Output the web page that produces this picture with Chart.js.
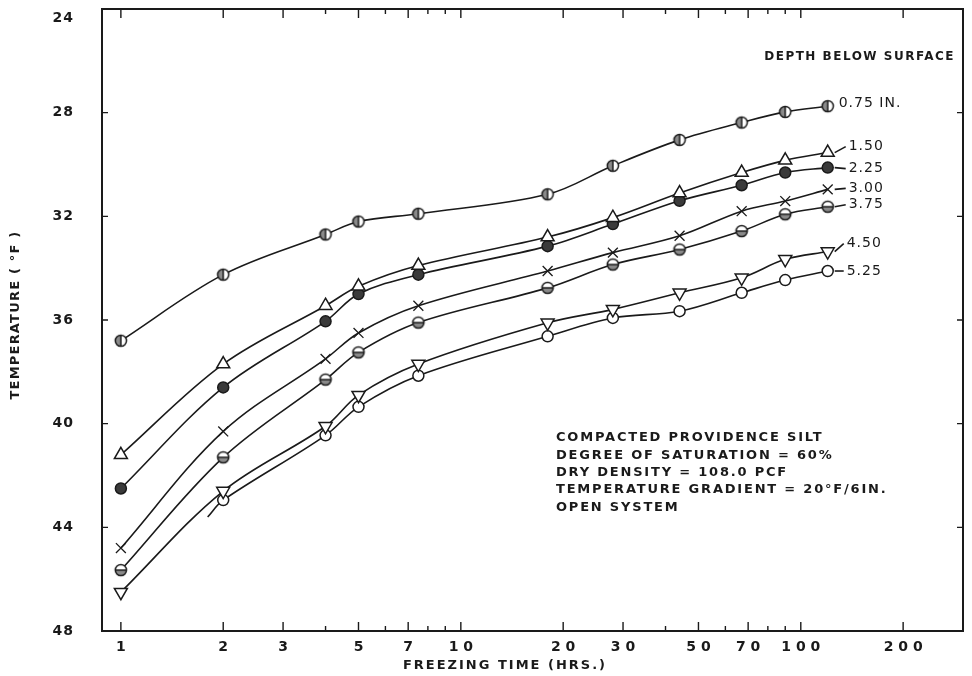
<!DOCTYPE html>
<html>
<head>
<meta charset="utf-8">
<script src="https://cdn.jsdelivr.net/npm/chart.js@4.4.1/dist/chart.umd.min.js"></script>
<style>
  body { margin: 0; background: #fff; }
</style>
</head>
<body>
<canvas id="myChart" width="972" height="676"></canvas>
<script>
// freezing time (hrs) at which temperatures were read
const hours = [1, 2, 4, 5, 7.5, 18, 28, 44, 67, 90, 120];
const depthLabels = ['0.75 IN.', '1.50', '2.25', '3.00', '3.75', '4.50', '5.25'];

// temperature (deg F) for each depth below surface
const temp075 = [36.8, 34.25, 32.7, 32.2, 31.9, 31.15, 30.05, 29.05, 28.38, 27.97, 27.75];
const temp150 = [41.2, 37.7, 35.45, 34.7, 33.9, 32.8, 32.05, 31.1, 30.31, 29.84, 29.54];
const temp225 = [42.5, 38.6, 36.05, 35.0, 34.25, 33.15, 32.3, 31.4, 30.8, 30.31, 30.12];
const temp300 = [44.8, 40.3, 37.5, 36.5, 35.45, 34.11, 33.4, 32.75, 31.8, 31.41, 30.96];
const temp375 = [45.65, 41.3, 38.3, 37.25, 36.1, 34.76, 33.86, 33.28, 32.57, 31.92, 31.63];
const temp450 = [46.5, 42.6, 40.1, 38.9, 37.7, 36.11, 35.59, 34.95, 34.37, 33.66, 33.36];
const temp525 = [null, 42.95, 40.45, 39.35, 38.15, 36.63, 35.92, 35.66, 34.95, 34.46, 34.11];
const start525 = [1.8, 43.6]; // the 5.25 curve starts a little before its 2 hr point

const xTicks = [1, 2, 3, 5, 7, 10, 20, 30, 50, 70, 100, 200];
const xMinorTicks = [4, 6, 8, 9, 40, 60, 80, 90];
const yTicks = [24, 28, 32, 36, 40, 44, 48];

const noteLines = [
    'COMPACTED PROVIDENCE SILT',
    'DEGREE OF SATURATION = 60%',
    'DRY DENSITY = 108.0 PCF',
    'TEMPERATURE GRADIENT = 20°F/6IN.',
    'OPEN SYSTEM'
];

const FONT = '"DejaVu Sans", "Liberation Sans", sans-serif';
const INK = '#1a1a1a';

// small hand-made markers (circle with a bar through it)
function barCircle(vertical) {
    const c = document.createElement('canvas');
    c.width = 16; c.height = 16;
    const g = c.getContext('2d');
    g.beginPath(); g.arc(8, 8, 5.6, 0, Math.PI * 2);
    g.fillStyle = '#fff'; g.fill();
    g.save();
    g.beginPath();
    if (vertical) g.arc(8, 8, 5.6, Math.PI / 2, Math.PI * 1.5);
    else g.arc(8, 8, 5.6, 0, Math.PI);
    g.closePath();
    g.fillStyle = '#8a8a8a'; g.fill();
    g.restore();
    g.strokeStyle = INK; g.lineWidth = 1.5;
    g.beginPath(); g.arc(8, 8, 5.6, 0, Math.PI * 2); g.stroke();
    g.beginPath();
    if (vertical) { g.moveTo(8, 2.4); g.lineTo(8, 13.6); }
    else { g.moveTo(2.4, 8); g.lineTo(13.6, 8); }
    g.stroke();
    return c;
}

const markers = [
    { style: barCircle(true), radius: 6, bg: '#fff', rot: 0 },
    { style: 'triangle', radius: 7.5, bg: '#fff', rot: 0 },
    { style: 'circle', radius: 5.5, bg: '#3a3a3a', rot: 0 },
    { style: 'crossRot', radius: 7, bg: '#fff', rot: 0 },
    { style: barCircle(false), radius: 6, bg: '#fff', rot: 0 },
    { style: 'triangle', radius: 7.5, bg: '#fff', rot: 180 },
    { style: 'circle', radius: 5.5, bg: '#fff', rot: 0 }
];
// where the depth label sits next to the last point
const labelPlace = [
    { dash: false, dy: -3, gap: 11 },
    { dash: true, dy: -6, gap: 21 },
    { dash: true, dy: 1, gap: 21 },
    { dash: true, dy: -1, gap: 21 },
    { dash: true, dy: -2, gap: 21 },
    { dash: true, dy: -8, gap: 19 },
    { dash: true, dy: 0, gap: 19 }
];

const allTemps = [temp075, temp150, temp225, temp300, temp375, temp450, temp525];

const datasets = allTemps.map((temps, k) => {
    let pts = [];
    hours.forEach((h, i) => {
        if (temps[i] !== null) pts.push({ x: h, y: temps[i] });
    });
    let hidden = -1;
    if (k === 6) { pts.unshift({ x: start525[0], y: start525[1] }); hidden = 0; }
    const m = markers[k];
    return {
        label: depthLabels[k],
        data: pts,
        borderColor: INK,
        borderWidth: 1.6,
        fill: false,
        tension: 0.35,
        pointStyle: m.style,
        pointRotation: m.rot,
        pointRadius: ctx => ctx.dataIndex === hidden ? 0 : m.radius,
        pointBackgroundColor: m.bg,
        pointBorderColor: INK,
        pointBorderWidth: k === 3 ? 1.3 : 1.5
    };
});

const decorPlugin = {
    id: 'decor',
    beforeDraw(chart) {
        const ctx = chart.ctx;
        ctx.save();
        ctx.fillStyle = '#fff';
        ctx.fillRect(0, 0, chart.width, chart.height);
        ctx.restore();
    },
    afterDatasetsDraw(chart) {
        const ctx = chart.ctx;
        ctx.save();
        ctx.fillStyle = INK;
        ctx.strokeStyle = INK;
        ctx.lineWidth = 1.6;
        ctx.textBaseline = 'middle';
        ctx.font = '14px ' + FONT;
        ctx.letterSpacing = '1px';
        chart.data.datasets.forEach((ds, k) => {
            const meta = chart.getDatasetMeta(k);
            const p = meta.data[meta.data.length - 1];
            const lp = labelPlace[k];
            if (lp.dash) {
                ctx.beginPath();
                ctx.moveTo(p.x + 7, p.y);
                ctx.lineTo(p.x + lp.gap - 3, p.y + lp.dy);
                ctx.stroke();
            }
            ctx.fillText(ds.label, p.x + lp.gap, p.y + lp.dy);
        });
        ctx.restore();
    },
    afterDraw(chart) {
        const ctx = chart.ctx;
        const a = chart.chartArea;
        const xs = chart.scales.x, ys = chart.scales.y;
        ctx.save();
        ctx.strokeStyle = INK;
        ctx.lineWidth = 1.4;
        // ticks pointing into the plot
        const tickX = (v, len) => {
            const px = xs.getPixelForValue(v);
            ctx.beginPath();
            ctx.moveTo(px, a.bottom); ctx.lineTo(px, a.bottom - len);
            ctx.moveTo(px, a.top); ctx.lineTo(px, a.top + len);
            ctx.stroke();
        };
        xTicks.forEach(v => tickX(v, 9));
        xMinorTicks.forEach(v => tickX(v, 5));
        yTicks.forEach(v => {
            const py = ys.getPixelForValue(v);
            ctx.beginPath();
            ctx.moveTo(a.left, py); ctx.lineTo(a.left + 6, py);
            ctx.moveTo(a.right, py); ctx.lineTo(a.right - 6, py);
            ctx.stroke();
        });
        ctx.lineWidth = 2;
        ctx.strokeRect(a.left, a.top, a.right - a.left, a.bottom - a.top);

        ctx.fillStyle = INK;
        ctx.textBaseline = 'middle';

        // y tick labels, the top one pushed down a little as in the original
        ctx.font = 'bold 14px ' + FONT;
        ctx.letterSpacing = '1px';
        ctx.textAlign = 'right';
        yTicks.forEach((v, i) => {
            const py = ys.getPixelForValue(v) + (i === 0 ? 9 : 0);
            ctx.fillText(String(v), a.left - 28, py);
        });

        ctx.font = 'bold 12px ' + FONT;
        ctx.letterSpacing = '1.5px';
        ctx.fillText('DEPTH BELOW SURFACE', 955, 57);

        ctx.textAlign = 'left';
        ctx.font = 'bold 13px ' + FONT;
        ctx.letterSpacing = '1.8px';
        noteLines.forEach((t, i) => ctx.fillText(t, 556, 438 + i * 17.3));

        ctx.textAlign = 'center';
        ctx.font = 'bold 13px ' + FONT;
        ctx.letterSpacing = '2px';
        ctx.fillText('FREEZING TIME (HRS.)', 505, 666);

        ctx.translate(16, 315);
        ctx.rotate(-Math.PI / 2);
        ctx.font = 'bold 13px ' + FONT;
        ctx.letterSpacing = '1.2px';
        ctx.fillText('TEMPERATURE ( °F )', 0, 0);
        ctx.restore();
    }
};

const ctx = document.getElementById('myChart').getContext('2d');
const myChart = new Chart(ctx, {
    type: 'line',
    data: { datasets: datasets },
    options: {
        responsive: false,
        animation: false,
        devicePixelRatio: 1,
        events: [],
        layout: { padding: { top: 9, right: 7, left: 0, bottom: 0 } },
        plugins: {
            legend: { display: false },
            tooltip: { enabled: false }
        },
        scales: {
            x: {
                type: 'logarithmic',
                min: 0.88,
                max: 300,
                grid: { display: false, drawTicks: false },
                border: { display: false },
                afterBuildTicks: scale => {
                    scale.ticks = xTicks.map(v => ({ value: v }));
                },
                afterFit: scale => {
                    scale.height = 45;
                    scale.paddingLeft = 0;
                    scale.paddingRight = 0;
                },
                ticks: {
                    autoSkip: false,
                    maxRotation: 0,
                    padding: 8,
                    color: INK,
                    font: { family: FONT, size: 14, weight: 'bold' },
                    callback: v => String(v).split('').join(' ')
                }
            },
            y: {
                type: 'linear',
                reverse: true,
                min: 24,
                max: 48,
                grid: { display: false, drawTicks: false },
                border: { display: false },
                afterBuildTicks: scale => {
                    scale.ticks = yTicks.map(v => ({ value: v }));
                },
                afterFit: scale => {
                    scale.width = 102;
                    scale.paddingTop = 0;
                    scale.paddingBottom = 0;
                },
                // labels are drawn by the decor plugin
                ticks: { display: false }
            }
        }
    },
    plugins: [decorPlugin]
});
</script>
</body>
</html>
